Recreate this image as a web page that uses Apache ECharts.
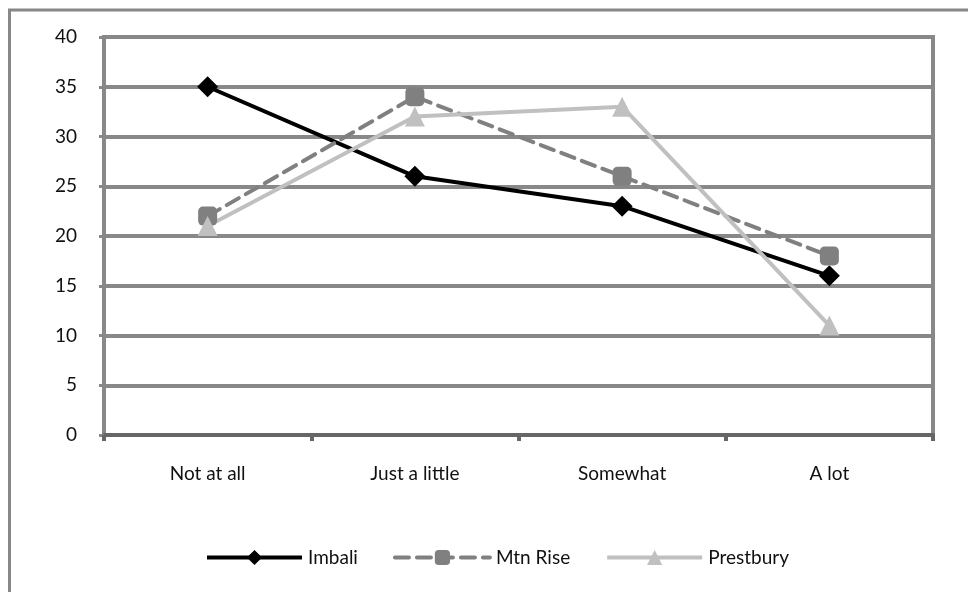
<!DOCTYPE html>
<html>
<head>
<meta charset="utf-8">
<script src="https://cdn.jsdelivr.net/npm/echarts@6/dist/echarts.min.js"></script>
<style>
html,body{margin:0;padding:0;background:#fff;}
#chart{width:968px;height:592px;}
</style>
</head>
<body>
<div id="chart"></div>
<script>
var categories = ['Not at all', 'Just a little', 'Somewhat', 'A lot'];
var imbali = [35, 26, 23, 16];
var mtnRise = [22, 34, 26, 18];
var prestbury = [21, 32, 33, 11];
var seriesNames = ['Imbali', 'Mtn Rise', 'Prestbury'];

var FONT = 'Lato';
var chart = echarts.init(document.getElementById('chart'), null, {renderer: 'canvas'});
chart.setOption({
  animation: false,
  backgroundColor: '#fff',
  textStyle: {fontFamily: FONT},
  graphic: [{
    type: 'rect',
    shape: {x: 9.5, y: 10, width: 1000, height: 1000},
    style: {fill: 'none', stroke: '#888', lineWidth: 3},
    z: 100
  }],
  grid: {
    left: 104, right: 35, top: 37, bottom: 157,
    show: true, borderColor: '#888', borderWidth: 4, backgroundColor: 'transparent'
  },
  legend: {
    left: 205, top: 548, padding: 0,
    itemWidth: 95, itemHeight: 19, itemGap: 35,
    lineStyle: {width: 4},
    textStyle: {fontFamily: FONT, fontSize: 19, color: '#111', padding: [0,0,0,1]},
    data: seriesNames
  },
  xAxis: {
    type: 'category',
    data: categories,
    boundaryGap: true,
    axisLine: {lineStyle: {color: '#666', width: 4}},
    axisTick: {show: true, length: 6, lineStyle: {color: '#666', width: 4}},
    axisLabel: {fontFamily: FONT, fontSize: 19, color: '#111', margin: 29}
  },
  yAxis: {
    type: 'value',
    min: 0, max: 40, interval: 5,
    axisLine: {show: true, lineStyle: {color: '#888', width: 4}},
    axisTick: {show: true, length: 5, lineStyle: {color: '#888', width: 3}},
    splitLine: {lineStyle: {color: '#888', width: 4}},
    axisLabel: {fontFamily: FONT, fontSize: 19, color: '#111', margin: 27}
  },
  series: [
    {
      name: seriesNames[0], type: 'line', data: imbali,
      symbol: 'diamond', symbolSize: 21,
      lineStyle: {color: '#000', width: 4},
      itemStyle: {color: '#000'}
    },
    {
      name: seriesNames[1], type: 'line', data: mtnRise,
      symbol: 'roundRect', symbolSize: 19,
      lineStyle: {color: '#808080', width: 4, type: [14, 8], cap: 'round'},
      itemStyle: {color: '#808080'}
    },
    {
      name: seriesNames[2], type: 'line', data: prestbury,
      symbol: 'triangle', symbolSize: 20,
      lineStyle: {color: '#c0c0c0', width: 4},
      itemStyle: {color: '#c0c0c0'}
    }
  ]
});
</script>
</body>
</html>
